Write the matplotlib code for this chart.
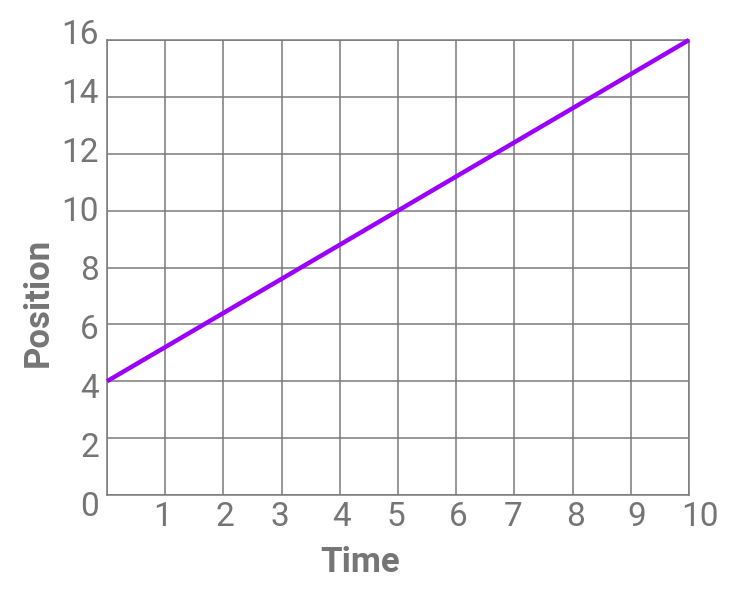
import matplotlib.pyplot as plt

# Data
time = [0, 10]
position = [4, 16]

x_ticks = [1, 2, 3, 4, 5, 6, 7, 8, 9, 10]
y_ticks = [0, 2, 4, 6, 8, 10, 12, 14, 16]
# where the labels sit (they drift a little from the grid in the original)
x_label_pos = [0.95, 2.03, 2.97, 4.03, 4.97, 6.03, 6.97, 8.05, 9.1, 10.19]
y_label_pos = [-0.42, 1.66, 3.73, 5.81, 7.88, 9.96, 12.03, 14.11, 16.18]

plt.rcParams['font.family'] = ['Roboto', 'DejaVu Sans']
grid_color = '#7a7a7a'
text_color = '#757575'

fig = plt.figure(figsize=(7.52, 5.92), dpi=100)
ax = fig.add_axes([107 / 752, 97 / 592, 582 / 752, 455 / 592])

ax.set_xlim(0, 10)
ax.set_ylim(0, 16)
ax.set_xticks(range(0, 11))
ax.set_yticks(y_ticks)
ax.tick_params(length=0, labelbottom=False, labelleft=False)
ax.grid(True, color=grid_color, linewidth=1.1)
for s in ax.spines.values():
    s.set_color(grid_color)
    s.set_linewidth(1.1)

ax.plot(time, position, color='#9b00ff', linewidth=3.2, solid_capstyle='butt', zorder=3, clip_on=False)

for v, p in zip(x_ticks, x_label_pos):
    ax.text(p, -0.048, str(v), transform=ax.get_xaxis_transform(), ha='center', va='center',
            fontsize=24, color=text_color, clip_on=False)
for v, p in zip(y_ticks, y_label_pos):
    ax.text(-0.0137, p, str(v), transform=ax.get_yaxis_transform(), ha='right', va='center',
            fontsize=24, color=text_color, clip_on=False)

fig.text(360 / 752, 1 - 563 / 592, 'Time', ha='center', va='center', fontsize=25,
         fontweight='bold', color=text_color)
fig.text(38 / 752, 1 - 302 / 592, 'Position', ha='center', va='center', fontsize=25,
         fontweight='bold', color=text_color, rotation=90)

fig.savefig('out.png', dpi=100)
